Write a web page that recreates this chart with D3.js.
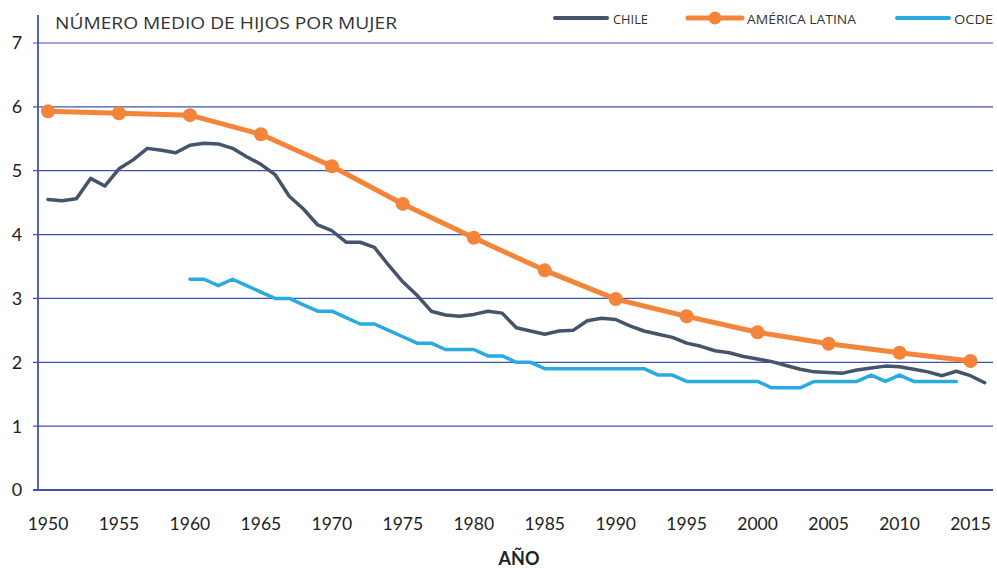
<!DOCTYPE html>
<html><head><meta charset="utf-8">
<script src="https://cdn.jsdelivr.net/npm/d3@7"></script>
<style>body{margin:0;background:#fff}svg{display:block;font-family:Lato,"Open Sans",sans-serif}</style>
</head><body><svg id="c" width="997" height="568"></svg>
<script>
const chileYears = d3.range(1950, 2017);
const chileValues = [4.55,4.53,4.56,4.88,4.76,5.03,5.17,5.35,5.32,5.28,5.40,5.43,5.42,5.35,5.22,5.10,4.94,4.60,4.40,4.15,4.06,3.88,3.88,3.80,3.52,3.26,3.05,2.80,2.74,2.72,2.75,2.80,2.77,2.54,2.49,2.44,2.49,2.50,2.65,2.69,2.67,2.57,2.49,2.44,2.39,2.30,2.25,2.18,2.15,2.09,2.05,2.01,1.95,1.89,1.85,1.84,1.83,1.88,1.91,1.94,1.93,1.89,1.85,1.79,1.86,1.79,1.68];
const latamYears = [1950,1955,1960,1965,1970,1975,1980,1985,1990,1995,2000,2005,2010,2015];
const latamValues = [5.93,5.90,5.87,5.57,5.07,4.48,3.95,3.44,2.99,2.72,2.47,2.29,2.15,2.02];
const ocdeYears = d3.range(1960, 2015);
const ocdeValues = [3.3,3.3,3.2,3.3,3.2,3.1,3.0,3.0,2.9,2.8,2.8,2.7,2.6,2.6,2.5,2.4,2.3,2.3,2.2,2.2,2.2,2.1,2.1,2.0,2.0,1.9,1.9,1.9,1.9,1.9,1.9,1.9,1.9,1.8,1.8,1.7,1.7,1.7,1.7,1.7,1.7,1.6,1.6,1.6,1.7,1.7,1.7,1.7,1.8,1.7,1.8,1.7,1.7,1.7,1.7];
const xTicks = [1950,1955,1960,1965,1970,1975,1980,1985,1990,1995,2000,2005,2010,2015];
const yTicks = [0,1,2,3,4,5,6,7];
const seriesNames = ["CHILE","AMÉRICA LATINA","OCDE"];
const colors = ["#44546a","#f4843a","#29abe2"];
const title = "NÚMERO MEDIO DE HIJOS POR MUJER";
const xTitle = "AÑO";

const svg = d3.select("#c");
const x = d3.scaleLinear().domain([1950, 2015]).range([48, 970.5]);
const y = d3.scaleLinear().domain([0, 7]).range([490, 43]);
const gridCol = "#3f51b0";

svg.append("g").selectAll("line").data(yTicks.filter(d=>d>0)).join("line")
  .attr("x1", 33).attr("x2", 993).attr("y1", d=>y(d)).attr("y2", d=>y(d))
  .attr("stroke", gridCol).attr("stroke-width", 1.2);
svg.append("line").attr("x1",38).attr("x2",38).attr("y1",15).attr("y2",y(0))
  .attr("stroke", gridCol).attr("stroke-width", 1.8);
svg.append("line").attr("x1",33).attr("x2",993).attr("y1",y(0)).attr("y2",y(0))
  .attr("stroke", gridCol).attr("stroke-width", 2.2);
svg.append("g").selectAll("text").data(yTicks).join("text")
  .attr("x", 17).attr("y", d=>y(d)).attr("dy","0.36em").attr("text-anchor","middle")
  .attr("font-size", 18).attr("fill","#222").text(d=>d);
svg.append("g").selectAll("text").data(xTicks).join("text")
  .attr("x", d=>x(d)).attr("y", 524).attr("dy","0.36em").attr("text-anchor","middle")
  .attr("font-size", 17.5).attr("fill","#222").text(d=>d);
svg.append("text").attr("x", 519).attr("y", 559).attr("dy","0.36em").attr("text-anchor","middle")
  .attr("font-size", 18).attr("font-weight","bold").attr("fill","#222").text(xTitle);
svg.append("text").attr("x", 55).attr("y", 23).attr("dy","0.36em")
  .attr("font-size", 17).attr("fill","#333").attr("font-family","'Open Sans',sans-serif")
  .attr("textLength", 342).attr("lengthAdjust","spacingAndGlyphs").text(title);

const line = d3.line().x(d=>x(d[0])).y(d=>y(d[1]));
const zip = (a,b)=>a.map((v,i)=>[v,b[i]]);
svg.append("path").datum(zip(ocdeYears, ocdeValues)).attr("d", line)
  .attr("fill","none").attr("stroke", colors[2]).attr("stroke-width", 3.5).attr("stroke-linejoin","round").attr("stroke-linecap","round");
svg.append("path").datum(zip(chileYears, chileValues)).attr("d", line)
  .attr("fill","none").attr("stroke", colors[0]).attr("stroke-width", 3.5).attr("stroke-linejoin","round").attr("stroke-linecap","round");
svg.append("path").datum(zip(latamYears, latamValues)).attr("d", line)
  .attr("fill","none").attr("stroke", colors[1]).attr("stroke-width", 5).attr("stroke-linejoin","round");
svg.append("g").selectAll("circle").data(zip(latamYears, latamValues)).join("circle")
  .attr("cx", d=>x(d[0])).attr("cy", d=>y(d[1])).attr("r", 7).attr("fill", colors[1]);

const leg = [{x1:555,x2:607,tx:613,w:35},{x1:688,x2:742,tx:747,w:109},{x1:897,x2:949,tx:954,w:39}];
leg.forEach((l,i)=>{
  svg.append("line").attr("x1",l.x1).attr("x2",l.x2).attr("y1",18).attr("y2",18)
    .attr("stroke",colors[i]).attr("stroke-width", i===1?5:4).attr("stroke-linecap","round");
  if(i===1) svg.append("circle").attr("cx",(l.x1+l.x2)/2).attr("cy",18).attr("r",6.5).attr("fill",colors[1]);
  svg.append("text").attr("x",l.tx).attr("y",19).attr("dy","0.36em")
    .attr("font-size",12.5).attr("fill","#333").attr("font-family","'Open Sans',sans-serif")
    .attr("textLength", l.w).attr("lengthAdjust","spacingAndGlyphs").text(seriesNames[i]);
});
</script></body></html>
